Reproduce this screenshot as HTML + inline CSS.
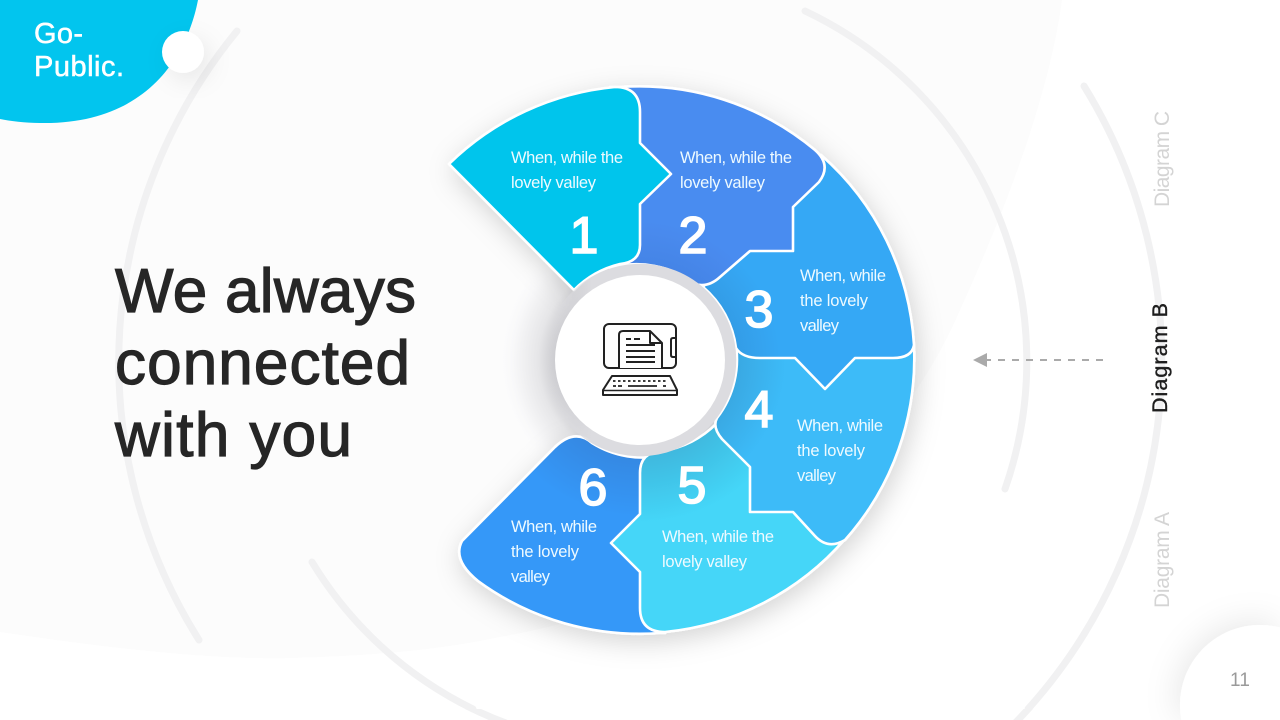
<!DOCTYPE html>
<html><head><meta charset="utf-8">
<style>html,body{margin:0;padding:0;background:#fff;width:1280px;height:720px;overflow:hidden}svg{display:block;overflow:hidden}
text{font-family:"Liberation Sans",sans-serif}</style></head>
<body>
<svg width="1280" height="720" viewBox="0 0 1280 720" xmlns="http://www.w3.org/2000/svg">
<defs>
<filter id="sh" x="-20%" y="-20%" width="140%" height="140%"><feDropShadow dx="3" dy="7" stdDeviation="13" flood-color="#000" flood-opacity=".17"/></filter>
<filter id="sm" x="-60%" y="-60%" width="220%" height="220%"><feDropShadow dx="-4" dy="-4" stdDeviation="16" flood-color="#000" flood-opacity=".09"/></filter>
<filter id="sc" x="-60%" y="-60%" width="220%" height="220%"><feDropShadow dx="6" dy="8" stdDeviation="12" flood-color="#000" flood-opacity=".08"/></filter>
<radialGradient id="gap" gradientUnits="userSpaceOnUse" cx="640" cy="360" r="150"><stop offset=".56" stop-color="#c9c9cd"/><stop offset=".68" stop-color="#e6e6e8"/><stop offset=".85" stop-color="#f8f8f9"/><stop offset="1" stop-color="#fff" stop-opacity="0"/></radialGradient>
<radialGradient id="g2" gradientUnits="userSpaceOnUse" cx="640" cy="360" r="280"><stop offset=".34" stop-color="#4484e6"/><stop offset=".5" stop-color="#4a8cf0"/></radialGradient>
<radialGradient id="g3" gradientUnits="userSpaceOnUse" cx="640" cy="360" r="280"><stop offset=".34" stop-color="#339ce6"/><stop offset=".5" stop-color="#35a8f5"/></radialGradient>
<radialGradient id="g4" gradientUnits="userSpaceOnUse" cx="640" cy="360" r="280"><stop offset=".34" stop-color="#39a8e2"/><stop offset=".52" stop-color="#3cbbf8"/></radialGradient>
<radialGradient id="g5" gradientUnits="userSpaceOnUse" cx="640" cy="360" r="280"><stop offset=".34" stop-color="#3fb8de"/><stop offset=".58" stop-color="#44d6f8"/></radialGradient>
<radialGradient id="g6" gradientUnits="userSpaceOnUse" cx="640" cy="360" r="280"><stop offset=".34" stop-color="#3488e2"/><stop offset=".56" stop-color="#3698f8"/></radialGradient>
<linearGradient id="ring" gradientUnits="userSpaceOnUse" x1="548" y1="0" x2="592" y2="0"><stop offset="0" stop-color="#dcdce0" stop-opacity="0"/><stop offset="1" stop-color="#dcdce0"/></linearGradient>
</defs>

<rect width="1280" height="720" fill="#fff"/>
<path d="M0 0H1062C1050 90 1010 200 960 310C900 450 760 590 500 637C440 650 370 656 290 658C220 660 120 650 0 632Z" fill="#fcfcfc"/>

<g fill="none" stroke="#f1f1f2" stroke-width="7" stroke-linecap="round">
<path d="M805 11A387 387 0 0 1 1005 489"/>
<path d="M312 562A387 387 0 0 0 473 709"/>
<path d="M237 31A522 522 0 0 0 199 640"/>
<path d="M1084 86A522 522 0 0 1 1028 709"/>
</g>
<g fill="#f1f1f2">
<path d="M465 709A390.500 390.500 0 0 0 488.700 720H507.800A383.500 383.500 0 0 1 481 709Z"/>
<path d="M1032.900 709A525.500 525.500 0 0 1 1022.800 720H1013.200A518.500 518.500 0 0 0 1023.500 709Z"/>
</g>

<path d="M0 0H198C188 52 150 125 40 123C25 123 10 121 0 119Z" fill="#02c5ee"/>
<circle cx="183" cy="52" r="21" fill="#fff" filter="url(#sc)"/>
<g fill="#fff" stroke="#fff" stroke-width=".5" font-size="29">
<text x="34" y="43" textLength="49">Go-</text>
<text x="34" y="76" textLength="90">Public.</text>
</g>

<path d="M1280 720V627.5A80 80 0 0 0 1181.4 720Z" fill="#fff" filter="url(#sm)"/>
<text x="1230" y="686" font-size="19" fill="#9a9a9a" textLength="20">11</text>

<g fill="#262626" stroke="#262626" stroke-width="1.2" font-size="62">
<text x="115" y="312" textLength="301">We always</text>
<text x="115" y="384" textLength="295">connected</text>
<text x="115" y="456" textLength="237">with you</text>
</g>

<text transform="translate(1169,207) rotate(-90)" font-size="21" fill="#d4d4d4" textLength="96">Diagram C</text>
<text transform="translate(1167,413) rotate(-90)" font-size="21.5" fill="#1e1e1e" stroke="#1e1e1e" stroke-width=".4" textLength="110">Diagram B</text>
<text transform="translate(1169,608) rotate(-90)" font-size="21" fill="#d4d4d4" textLength="96">Diagram A</text>

<path d="M1103 360H985" stroke="#aaa" stroke-width="2" stroke-dasharray="7 7"/>
<path d="M973 360L987 353V367Z" fill="#aaa"/>

<!-- wheel -->
<circle cx="640" cy="360" r="150" fill="url(#gap)"/>
<g stroke="#fff" stroke-width="2.6" stroke-linejoin="round" filter="url(#sh)">
<path fill="url(#g6)" d="M660 633A274 274 0 0 1 478 581Q452 560 462 541L555 447Q575 428 592 443A96 96 0 0 0 665 455V633Z"/>
<path fill="url(#g5)" d="M845 539A274 274 0 0 1 665 632Q640 632 640 608V572L611 543L640 514V473Q640 452 662 451A96 96 0 0 0 717 423L800 500Z"/>
<path fill="url(#g4)" d="M914 345A274 274 0 0 1 845 540Q828 550 815 536L793 512H750V467L722 439Q712 427 717 418A96 96 0 0 0 735 340L860 330Z"/>
<path fill="url(#g3)" d="M821 155A274 274 0 0 1 914 345Q912 358 893 358H855L825 389L795 358H760Q742 358 736 348A96 96 0 0 0 703 287L780 200Z"/>
<path fill="url(#g2)" d="M620 87A274 274 0 0 1 815 150Q832 165 819 182L793 207V251H750L720 277Q708 288 695 284A96 96 0 0 0 610 268L610 87Z"/>
<path fill="#02c5ec" d="M449 164A274 274 0 0 1 615 87Q640 87 640 112V143L671 174L640 204V245Q640 262 620 264A96 96 0 0 0 574 290Z"/>
</g>

<circle cx="640" cy="360" r="90.5" fill="none" stroke="url(#ring)" stroke-width="11.5"/>
<circle cx="640" cy="360" r="85" fill="#fff"/>

<!-- icon -->
<g fill="none" stroke="#222" stroke-width="2" stroke-linejoin="round">
<rect x="604" y="324" width="72" height="44" rx="5"/>
<path d="M619 368V335Q619 331 623 331H650L662 343V368" fill="#fff"/>
<path d="M650 331V343H662"/>
<path d="M676 338H673Q671 338 671 340V355Q671 357 673 357H676"/>
<path d="M612 376H670L677 390V395H603V390Z"/>
<path d="M603 390.500H677" stroke-width="1.6"/>
<path d="M626 339H631M634 339H640M626 345H655M626 351H655M626 357H655M626 362H655"/>
<path d="M613 381H668" stroke-dasharray="2.500 2.500" stroke-width="1.8"/>
<path d="M628 386H657M613 386H616M618 386H622M663 386H666" stroke-width="1.8"/>
</g>

<!-- numbers -->
<g fill="#fff" stroke="#fff" stroke-width="1.6" font-size="52" text-anchor="middle">
<text x="584" y="253">1</text>
<text x="693" y="253">2</text>
<text x="759" y="327">3</text>
<text x="759" y="427">4</text>
<text x="692" y="503">5</text>
<text x="593" y="505">6</text>
</g>

<!-- labels -->
<g fill="#eefaff" font-size="16.5">
<text x="511" y="163" textLength="112">When, while the</text>
<text x="511" y="188" textLength="85">lovely valley</text>
<text x="680" y="163" textLength="112">When, while the</text>
<text x="680" y="188" textLength="85">lovely valley</text>
<text x="800" y="281" textLength="86">When, while</text>
<text x="800" y="306" textLength="68">the lovely</text>
<text x="800" y="331" textLength="39">valley</text>
<text x="797" y="431" textLength="86">When, while</text>
<text x="797" y="456" textLength="68">the lovely</text>
<text x="797" y="481" textLength="39">valley</text>
<text x="662" y="542" textLength="112">When, while the</text>
<text x="662" y="567" textLength="85">lovely valley</text>
<text x="511" y="532" textLength="86">When, while</text>
<text x="511" y="557" textLength="68">the lovely</text>
<text x="511" y="582" textLength="39">valley</text>
</g>
</svg>
</body></html>
